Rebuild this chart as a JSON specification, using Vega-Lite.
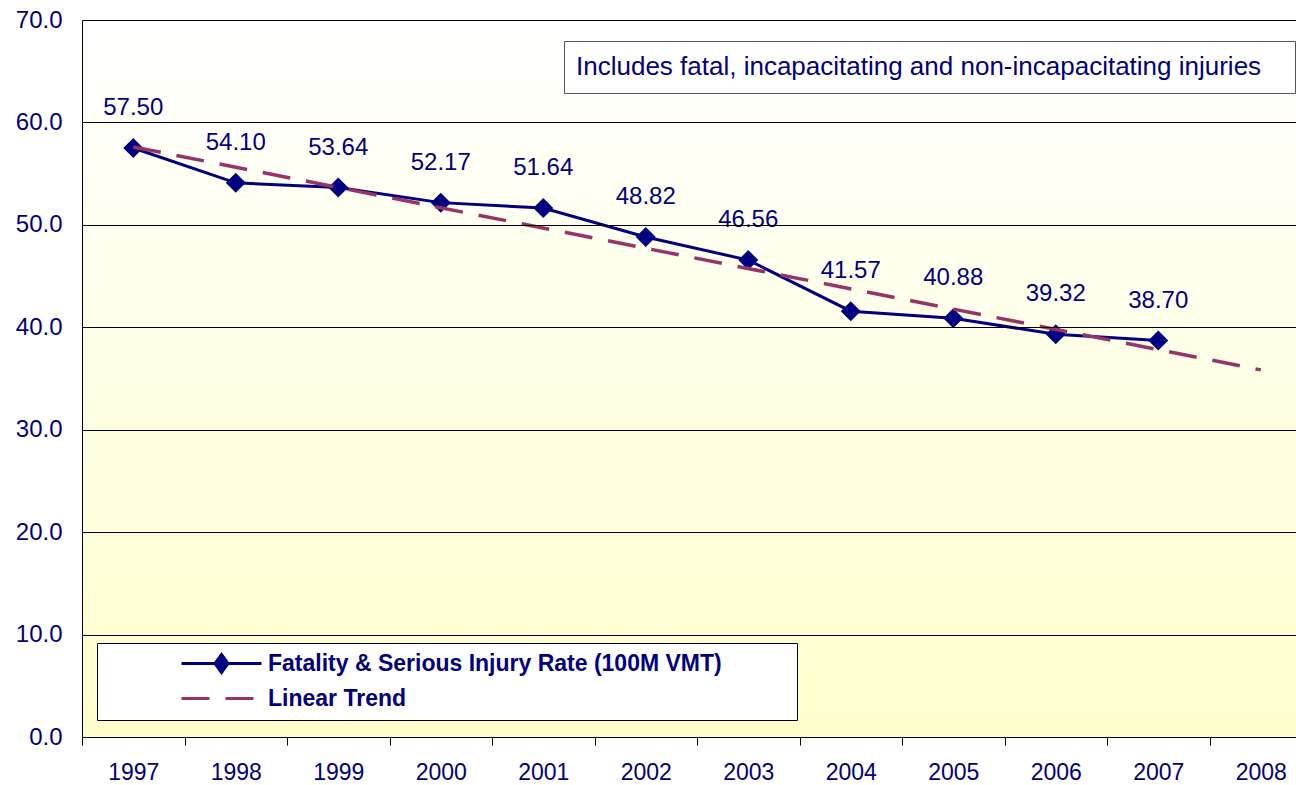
{
  "$schema": "https://vega.github.io/schema/vega-lite/v6.json",
  "width": 1214,
  "height": 717,
  "autosize": {"type": "none"},
  "padding": {"left": 82, "top": 20, "right": 0, "bottom": 48},
  "background": "white",
  "config": {
    "font": "Liberation Sans",
    "view": {"stroke": "#000000", "strokeWidth": 1}
  },
  "layer": [
    {
      "data": {"values": [{}]},
      "mark": {
        "type": "rect",
        "fill": {
          "gradient": "linear",
          "x1": 0, "y1": 0, "x2": 0, "y2": 1,
          "stops": [
            {"offset": 0, "color": "#ffffff"},
            {"offset": 1, "color": "#ffffcc"}
          ]
        },
        "stroke": null
      }
    },
    {
      "data": {
        "values": [
          {"year": 1997, "value": 57.50, "series": "Fatality & Serious Injury Rate (100M VMT)"},
          {"year": 1998, "value": 54.10, "series": "Fatality & Serious Injury Rate (100M VMT)"},
          {"year": 1999, "value": 53.64, "series": "Fatality & Serious Injury Rate (100M VMT)"},
          {"year": 2000, "value": 52.17, "series": "Fatality & Serious Injury Rate (100M VMT)"},
          {"year": 2001, "value": 51.64, "series": "Fatality & Serious Injury Rate (100M VMT)"},
          {"year": 2002, "value": 48.82, "series": "Fatality & Serious Injury Rate (100M VMT)"},
          {"year": 2003, "value": 46.56, "series": "Fatality & Serious Injury Rate (100M VMT)"},
          {"year": 2004, "value": 41.57, "series": "Fatality & Serious Injury Rate (100M VMT)"},
          {"year": 2005, "value": 40.88, "series": "Fatality & Serious Injury Rate (100M VMT)"},
          {"year": 2006, "value": 39.32, "series": "Fatality & Serious Injury Rate (100M VMT)"},
          {"year": 2007, "value": 38.70, "series": "Fatality & Serious Injury Rate (100M VMT)"},
          {"year": 1997, "value": 57.61, "series": "Linear Trend"},
          {"year": 2008, "value": 35.84, "series": "Linear Trend"}
        ]
      },
      "encoding": {
        "x": {
          "field": "year",
          "type": "ordinal",
          "bandPosition": 0.5,
          "scale": {
            "type": "band",
            "domain": [1997, 1998, 1999, 2000, 2001, 2002, 2003, 2004, 2005, 2006, 2007, 2008],
            "range": [0, 1230],
            "paddingInner": 0,
            "paddingOuter": 0
          },
          "axis": {
            "title": null,
            "zindex": 1,
            "labelAngle": 0,
            "tickBand": "extent",
            "tickSize": 8,
            "tickColor": "#000000",
            "domainColor": "#000000",
            "labelColor": "#000080",
            "labelFont": "Liberation Sans",
            "labelFontSize": 23,
            "labelPadding": 16,
            "grid": false
          }
        },
        "y": {
          "field": "value",
          "type": "quantitative",
          "scale": {"domain": [0, 70], "nice": false, "zero": true},
          "axis": {
            "title": null,
            "zindex": 1,
            "values": [0, 10, 20, 30, 40, 50, 60, 70],
            "format": ".1f",
            "grid": true,
            "gridColor": "#000000",
            "gridWidth": 1,
            "gridOpacity": 1,
            "ticks": false,
            "domainColor": "#000000",
            "labelColor": "#000080",
            "labelFont": "Liberation Sans",
            "labelFontSize": 24,
            "labelPadding": 20
          }
        },
        "color": {
          "field": "series",
          "type": "nominal",
          "scale": {
            "domain": ["Fatality & Serious Injury Rate (100M VMT)", "Linear Trend"],
            "range": ["#000080", "#993366"]
          },
          "legend": {
            "orient": "none",
            "legendX": 15,
            "legendY": 623,
            "zindex": 2,
            "title": null,
            "fillColor": "white",
            "strokeColor": "#000000",
            "padding": 9,
            "symbolSize": 400,
            "symbolOffset": 104,
            "labelOffset": 35,
            "rowPadding": 8,
            "labelFont": "Liberation Sans",
            "labelFontSize": 23,
            "labelFontWeight": "bold",
            "labelColor": "#000080",
            "labelLimit": 1000,
            "symbolStrokeWidth": 3,
            "encode": {
              "symbols": {
                "update": {
                  "shape": {"signal": "datum.value === 'Linear Trend' ? 'M-4,0H4M56,0' : 'M-4,0H4M0,-0.9L0.65,0L0,0.9L-0.65,0ZM56,0'"},
                  "fill": {"signal": "datum.value === 'Linear Trend' ? 'transparent' : '#000080'"},
                  "stroke": {"signal": "datum.value === 'Linear Trend' ? '#993366' : '#000080'"},
                  "strokeDash": {"signal": "datum.value === 'Linear Trend' ? [28, 16] : [1, 0]"},
                  "strokeWidth": {"value": 3},
                  "opacity": {"value": 1}
                }
              }
            }
          }
        }
      },
      "layer": [
        {
          "transform": [{"filter": "datum.series !== 'Linear Trend'"}],
          "mark": {
            "type": "line",
            "strokeWidth": 3,
            "point": {"shape": "diamond", "size": 400, "filled": true, "opacity": 1}
          }
        },
        {
          "transform": [{"filter": "datum.series === 'Linear Trend'"}],
          "mark": {"type": "line", "strokeWidth": 3.5, "strokeDash": [28, 16]}
        },
        {
          "transform": [{"filter": "datum.series !== 'Linear Trend'"}],
          "mark": {"type": "text", "dy": -40, "baseline": "middle", "align": "center", "fontSize": 24, "font": "Liberation Sans"},
          "encoding": {
            "text": {"field": "value", "type": "quantitative", "format": ".2f"},
            "color": {"value": "#000080"}
          }
        }
      ]
    },
    {
      "data": {"values": [{"note": "Includes fatal, incapacitating and non-incapacitating injuries"}]},
      "mark": {"type": "point", "size": 0, "strokeWidth": 0, "filled": false},
      "encoding": {
        "opacity": {
          "field": "note",
          "type": "nominal",
          "scale": {"range": [0]},
          "legend": {
            "orient": "none",
            "legendX": 482,
            "legendY": 21,
            "zindex": 2,
            "title": null,
            "fillColor": "white",
            "strokeColor": "#555555",
            "padding": 13,
            "symbolSize": 100,
            "symbolType": "M-1,0H-0.9M137.9,0",
            "symbolStrokeColor": "transparent",
            "symbolFillColor": "transparent",
            "symbolStrokeWidth": 1,
            "labelOffset": -27,
            "labelFont": "Liberation Sans",
            "labelFontSize": 26,
            "labelColor": "#000080",
            "labelLimit": 1000,
            "encode": {
              "symbols": {
                "update": {
                  "shape": {"value": "M-1,0H-0.9M137.9,0"},
                  "size": {"value": 100},
                  "opacity": {"value": 1},
                  "fill": {"value": "transparent"},
                  "stroke": {"value": "transparent"},
                  "strokeWidth": {"value": 1}
                }
              }
            }
          }
        }
      }
    }
  ]
}
